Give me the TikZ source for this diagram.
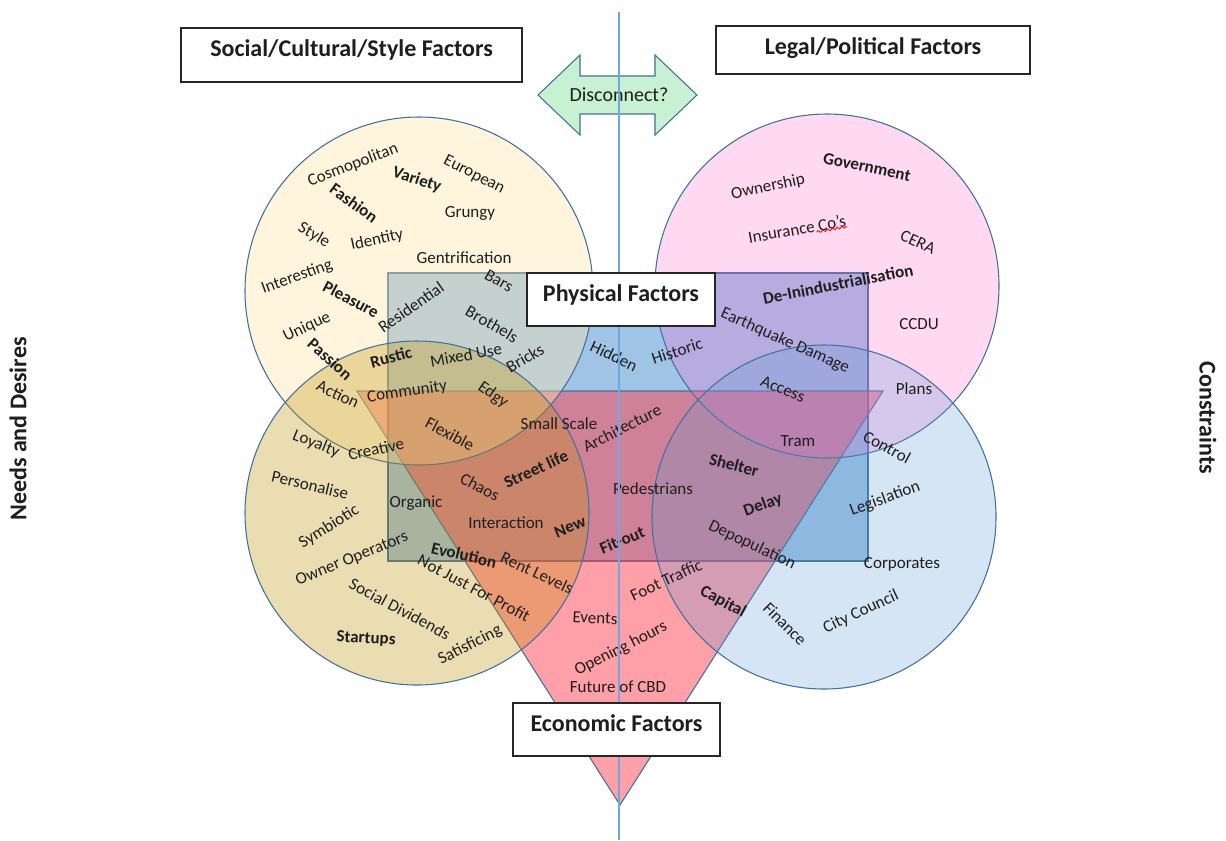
\documentclass[tikz,border=0pt]{standalone}
\usepackage{fontspec}
\setmainfont{Carlito}
\usetikzlibrary{calc,decorations.pathmorphing}
\definecolor{outl}{HTML}{41719C}
\definecolor{ink}{HTML}{1E1E1E}
\definecolor{rectc}{HTML}{5B9BD5}
\definecolor{tric}{HTML}{FF4050}
\definecolor{tlc}{HTML}{FFE6AA}
\definecolor{trc}{HTML}{FF66CC}
\definecolor{blc}{HTML}{BF9000}
\definecolor{brc}{HTML}{5B9BD5}
\definecolor{arrowc}{HTML}{C8F0D2}
\definecolor{vlinec}{HTML}{6FA8DC}
\definecolor{boxline}{HTML}{262626}
% one word of the diagram: name, style, x, y, angle, text
\newcommand\wrd[6]{\node[#2, rotate=#5] (#1) at (#3,#4) {#6};}
\begin{document}
\begin{tikzpicture}[x=0.75pt,y=-0.75pt,
  wr/.style={font=\fontsize{12.75}{14}\selectfont, text=ink, inner sep=0pt},
  wb/.style={font=\fontsize{12.75}{14}\selectfont\bfseries, text=ink, inner sep=0pt},
  titlebox/.style={draw=boxline, line width=1.1pt, fill=white,
    font=\fontsize{18}{20}\selectfont\bfseries, text=ink, inner sep=0pt,
    text height=13pt, text depth=10.4pt},
  sidelabel/.style={font=\fontsize{18}{20}\selectfont\bfseries, text=ink, inner sep=0pt},
  region/.style={draw=outl, line width=0.8pt}]
\useasboundingbox (0,0) rectangle (1226,840);
\fill[white] (0,0) rectangle (1226,840);

% physical factors (rectangle) and economic factors (triangle)
\draw[region, fill=rectc, fill opacity=.58] (388,273) rectangle (868,561);
\draw[region, fill=tric, fill opacity=.5] (357,391) -- (883,391) -- (620,805) -- cycle;

% the four circles
\draw[region, fill=tlc, fill opacity=.4] (419,291) circle[radius=174];
\draw[region, fill=trc, fill opacity=.25] (827,286) circle[radius=172];
\draw[region, fill=blc, fill opacity=.3] (417,513) circle[radius=172];
\draw[region, fill=brc, fill opacity=.25] (824,517) circle[radius=172];

% double arrow between the two upper titles
\draw[draw=outl, line width=0.8pt, fill=arrowc]
  (538,95) -- (580,55) -- (580,76) -- (655,76) -- (655,55) -- (697,95)
  -- (655,135) -- (655,114) -- (580,114) -- (580,135) -- cycle;
\node[font=\fontsize{15}{17}\selectfont, text=ink, inner sep=0pt] (disc) at (619,95) {Disconnect?};

% social / cultural / style words
\wrd{w01}{wr}{353}{165}{21}{Cosmopolitan}
\wrd{w02}{wb}{417}{180}{-18}{Variety}
\wrd{w03}{wr}{474}{175}{-27}{European}
\wrd{w04}{wb}{354}{203}{-36}{Fashion}
\wrd{w05}{wr}{470}{213}{0}{Grungy}
\wrd{w06}{wr}{314}{235}{-30}{Style}
\wrd{w07}{wr}{377}{240}{12}{Identity}
\wrd{w08}{wr}{464}{258}{0}{Gentrification}
\wrd{w09}{wr}{297}{277}{20}{Interesting}
\wrd{w10}{wr}{499}{281}{-30}{Bars}
\wrd{w11}{wb}{351}{299}{-28}{Pleasure}
\wrd{w12}{wr}{411}{307}{35}{Residential}
\wrd{w13}{wr}{307}{327}{25}{Unique}
\wrd{w14}{wr}{492}{324}{-30}{Brothels}
\wrd{w15}{wb}{330}{359}{-42}{Passion}
\wrd{w16}{wb}{391}{357}{15}{Rustic}
\wrd{w17}{wr}{466}{355}{10}{Mixed Use}
\wrd{w18}{wr}{525}{358}{30}{Bricks}
\wrd{w19}{wr}{338}{394}{-25}{Action}
\wrd{w20}{wr}{407}{392}{8}{Community}
\wrd{w21}{wr}{493}{395}{-35}{Edgy}
\wrd{w22}{wr}{450}{434}{-28}{Flexible}
\wrd{w23}{wr}{316}{444}{-22}{Loyalty}
\wrd{w24}{wr}{376}{449}{12}{Creative}
\wrd{w25}{wr}{310}{485}{-13}{Personalise}
\wrd{w26}{wr}{416}{503}{0}{Organic}
\wrd{w27}{wr}{329}{527}{32}{Symbiotic}
\wrd{w28}{wr}{352}{559}{22}{Owner Operators}
\wrd{w29}{wb}{464}{555}{-13}{Evolution}
\wrd{w30}{wr}{474}{588}{-28}{Not Just For Profit}
\wrd{w31}{wr}{537}{573}{-25}{Rent Levels}
\wrd{w32}{wr}{400}{609}{-28}{Social Dividends}
\wrd{w33}{wb}{366}{639}{-3}{Startups}
\wrd{w34}{wr}{470}{645}{27}{Satisficing}

% physical / economic words
\wrd{w35}{wr}{559}{424}{0}{Small Scale}
\wrd{w36}{wr}{622}{428}{27}{Architecture}
\wrd{w37}{wr}{614}{356}{-25}{Hidden}
\wrd{w38}{wr}{677}{351}{18}{Historic}
\wrd{w39}{wr}{480}{487}{-28}{Chaos}
\wrd{w40}{wb}{536}{469}{25}{Street life}
\wrd{w41}{wr}{506}{523}{0}{Interaction}
\wrd{w42}{wb}{570}{527}{22}{New}
\wrd{w43}{wr}{653}{489}{0}{Pedestrians}
\wrd{w44}{wb}{622}{540}{22}{Fit-out}
\wrd{w45}{wr}{666}{580}{25}{Foot Traffic}
\wrd{w46}{wr}{595}{618}{-3}{Events}
\wrd{w47}{wr}{621}{649}{27}{Opening hours}
\wrd{w48}{wr}{618}{687}{0}{Future of CBD}

% legal / political words
\wrd{w49}{wr}{768}{187}{12}{Ownership}
\wrd{w50}{wb}{867}{167}{-12}{Government}
\wrd{w51}{wr}{797}{229}{10}{Insurance Co's}
\wrd{w52}{wr}{918}{242}{-25}{CERA}
\wrd{w53}{wb}{838}{284}{11}{De-Inindustrialisation}
\wrd{w54}{wr}{919}{324}{0}{CCDU}
\wrd{w55}{wr}{785}{341}{-24}{Earthquake Damage}
\wrd{w56}{wr}{783}{389}{-22}{Access}
\wrd{w57}{wr}{914}{389}{0}{Plans}
\wrd{w58}{wr}{798}{441}{0}{Tram}
\wrd{w59}{wr}{887}{447}{-28}{Control}
\wrd{w60}{wb}{734}{465}{-15}{Shelter}
\wrd{w61}{wb}{763}{505}{20}{Delay}
\wrd{w62}{wr}{885}{499}{20}{Legislation}
\wrd{w63}{wr}{752}{545}{-25}{Depopulation}
\wrd{w64}{wr}{902}{564}{0}{Corporates}
\wrd{w65}{wb}{723}{602}{-28}{Capital}
\wrd{w66}{wr}{785}{624}{-45}{Finance}
\wrd{w67}{wr}{861}{612}{25}{City Council}

% spelling squiggle under "Co's"
\draw[red, line width=0.6pt, decorate,
  decoration={snake, amplitude=0.8pt, segment length=3.6pt}]
  ($(w51.south west)!0.69!(w51.south east)$) -- (w51.south east);

% central divider
\coordinate (ltop) at (619,12);
\coordinate (lbot) at (619,840);
\draw[vlinec, line width=1.1pt] (ltop) -- (lbot);

% titles
\node[titlebox, minimum width=255.75pt, minimum height=40.5pt] (social) at (351.5,55) {Social/Cultural/Style Factors};
\node[titlebox, text depth=6pt, minimum width=235.5pt, minimum height=36pt] (legal) at (873,50) {Legal/Political Factors};
\node[titlebox, minimum width=141pt, minimum height=39.75pt] (physical) at (621,299.5) {Physical Factors};
\node[titlebox, minimum width=155.25pt, minimum height=39.75pt] (economic) at (616.5,729.5) {Economic Factors};

% side labels
\node[sidelabel, rotate=90] (needs) at (18,429) {Needs and Desires};
\node[sidelabel, rotate=-90] (constraints) at (1208,418) {Constraints};
\end{tikzpicture}
\end{document}
